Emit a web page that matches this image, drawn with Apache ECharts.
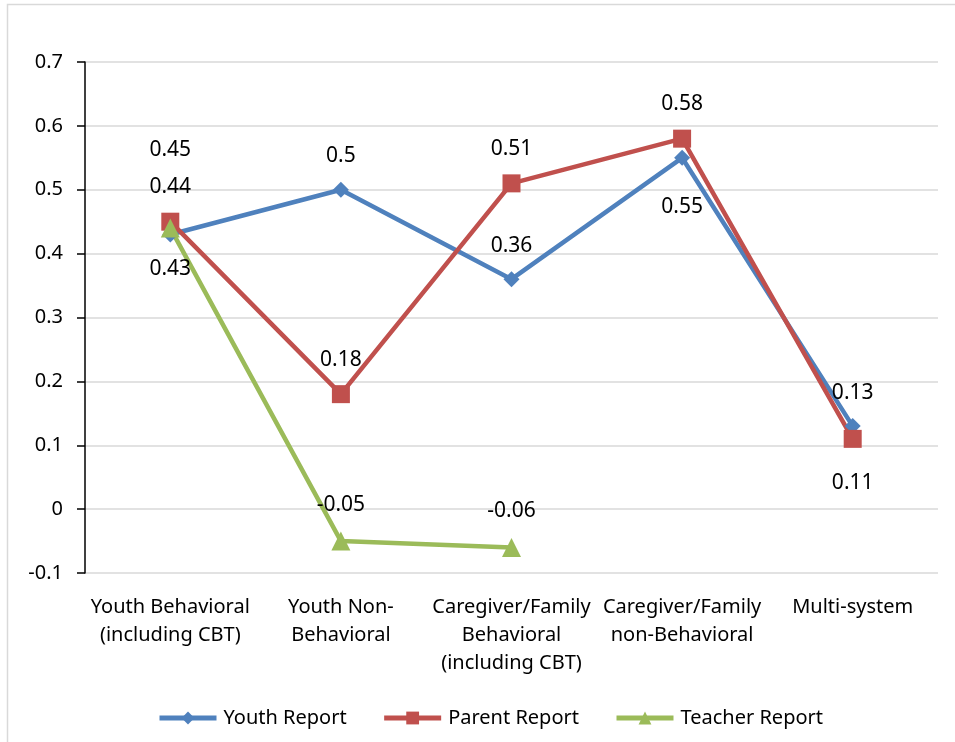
<!DOCTYPE html>
<html>
<head>
<meta charset="utf-8">
<script src="https://cdn.jsdelivr.net/npm/echarts@6/dist/echarts.min.js"></script>
<style>
  html, body { margin: 0; padding: 0; background: #fff; }
  #chart { width: 955px; height: 742px; }
</style>
</head>
<body>
<div id="chart"></div>
<script>
var categories = [
  'Youth Behavioral\n(including CBT)',
  'Youth Non-\nBehavioral',
  'Caregiver/Family\nBehavioral\n(including CBT)',
  'Caregiver/Family\nnon-Behavioral',
  'Multi-system'
];
var youthReport = [0.43, 0.5, 0.36, 0.55, 0.13];
var parentReport = [0.45, 0.18, 0.51, 0.58, 0.11];
var teacherReport = [0.44, -0.05, -0.06, null, null];
var yTicks = [-0.1, 0, 0.1, 0.2, 0.3, 0.4, 0.5, 0.6, 0.7];

var fontFamily = 'Noto Sans';

// where each data label sits, as Excel placed them
function labelFor(pos, dist) {
  return { position: pos, distance: dist };
}
var youthLabels = [labelFor('bottom', 16), labelFor('top', 15), labelFor('top', 15), labelFor('bottom', 31), labelFor('top', 15)];
var parentLabels = [labelFor('top', 52), labelFor('top', 15), labelFor('top', 15), labelFor('top', 15), labelFor('bottom', 25)];
var teacherLabels = [labelFor('top', 21), labelFor('top', 16), labelFor('top', 16), null, null];

function buildData(values, labels) {
  return values.map(function(v, i) {
    if (v === null) return null;
    return { value: v, label: labels[i] };
  });
}

function makeSeries(name, values, labels, color, symbol, size) {
  return {
    name: name,
    type: 'line',
    data: buildData(values, labels),
    symbol: symbol,
    symbolSize: size,
    color: color,
    lineStyle: { width: 4.5, color: color },
    itemStyle: { color: color },
    connectNulls: false,
    label: {
      show: true,
      color: '#000',
      fontSize: 21,
      fontFamily: fontFamily
    },
    emphasis: { disabled: true }
  };
}

var chart = echarts.init(document.getElementById('chart'));

chart.setOption({
  animation: false,
  backgroundColor: '#fff',
  graphic: [{
    type: 'rect',
    shape: { x: 7.5, y: 4.5, width: 1000, height: 800 },
    style: { fill: 'none', stroke: '#d9d9d9', lineWidth: 1.5 },
    silent: true
  }],
  grid: { left: 85, right: 17, top: 62, bottom: 169 },
  legend: {
    bottom: 9,
    left: 152,
    itemWidth: 57,
    itemHeight: 16,
    itemGap: 35,
    lineStyle: { width: 5 },
    textStyle: { fontSize: 20, fontFamily: fontFamily, color: '#000', padding: [0, 0, 0, 2] },
    data: ['Youth Report', 'Parent Report', 'Teacher Report']
  },
  xAxis: {
    type: 'category',
    data: categories,
    boundaryGap: true,
    axisLine: { show: false },
    axisTick: { show: false },
    axisLabel: {
      interval: 0,
      margin: 20,
      color: '#000',
      fontSize: 20,
      lineHeight: 28,
      fontFamily: fontFamily
    }
  },
  yAxis: {
    type: 'value',
    min: yTicks[0],
    max: yTicks[yTicks.length - 1],
    interval: 0.1,
    axisLine: { show: true, lineStyle: { color: '#000', width: 1.5 } },
    axisTick: { show: true, length: 8, lineStyle: { color: '#000', width: 1.5 } },
    splitLine: { lineStyle: { color: '#d9d9d9', width: 1.5 } },
    axisLabel: {
      margin: 22,
      color: '#000',
      fontSize: 20,
      fontFamily: fontFamily,
      formatter: function(v) { return String(Math.round(v * 10) / 10); }
    }
  },
  series: [
    makeSeries('Youth Report', youthReport, youthLabels, '#4f81bd', 'diamond', 16),
    makeSeries('Parent Report', parentReport, parentLabels, '#c0504d', 'rect', 18),
    makeSeries('Teacher Report', teacherReport, teacherLabels, '#9bbb59', 'triangle', 19)
  ]
});
</script>
</body>
</html>
